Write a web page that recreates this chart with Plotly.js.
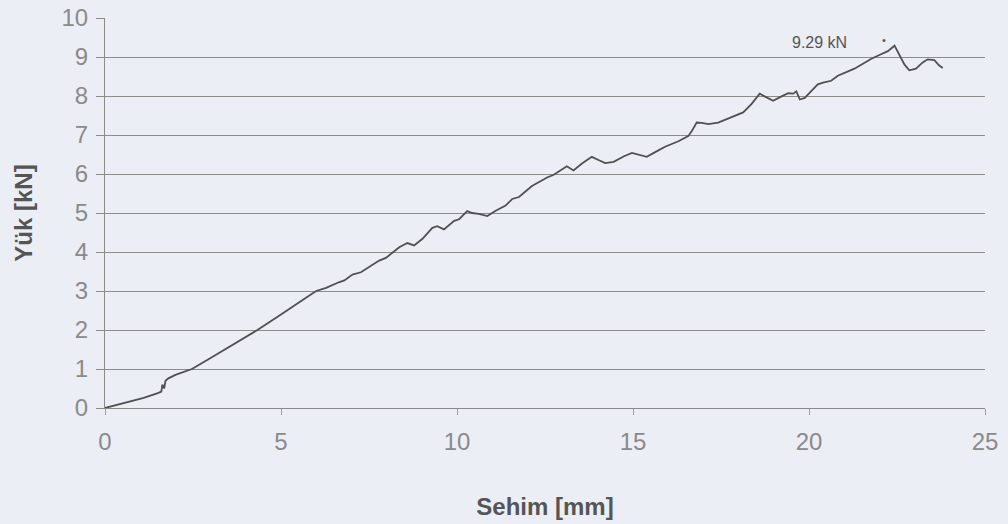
<!DOCTYPE html>
<html>
<head>
<meta charset="utf-8">
<script src="https://cdn.plot.ly/plotly-3.0.1.min.js"></script>
<style>html,body{margin:0;padding:0;background:#eceef6;}#chart{width:1008px;height:524px;}</style>
</head>
<body>
<div id="chart"></div>
<script>
// Deflection (mm)
var sehim = [0, 0.3, 0.7, 1.1, 1.5, 1.6, 1.63, 1.68, 1.72, 1.8, 2.0, 2.47, 3.0, 3.5, 4.33, 5.0, 5.52, 5.71, 6.0, 6.28, 6.66, 6.8, 7.03, 7.27, 7.79, 7.98, 8.36, 8.59, 8.78, 9.02, 9.3, 9.44, 9.63, 9.92, 10.06, 10.29, 10.43, 10.62, 10.86, 11.1, 11.38, 11.57, 11.76, 12.13, 12.56, 12.75, 13.12, 13.22, 13.31, 13.55, 13.83, 14.02, 14.21, 14.45, 14.73, 14.97, 15.16, 15.39, 15.63, 15.91, 16.29, 16.57, 16.67, 16.81, 16.95, 17.14, 17.42, 17.8, 18.13, 18.37, 18.6, 18.74, 18.98, 19.22, 19.41, 19.55, 19.64, 19.74, 19.88, 20.07, 20.25, 20.4, 20.63, 20.82, 21.06, 21.29, 21.58, 21.76, 22.0, 22.24, 22.43, 22.57, 22.71, 22.85, 23.04, 23.23, 23.37, 23.56, 23.7, 23.8];
// Load (kN)
var yuk = [0, 0.07, 0.16, 0.26, 0.38, 0.42, 0.6, 0.5, 0.7, 0.76, 0.85, 1.0, 1.28, 1.55, 2.0, 2.4, 2.70, 2.83, 3.0, 3.08, 3.23, 3.27, 3.42, 3.48, 3.78, 3.85, 4.12, 4.23, 4.17, 4.34, 4.62, 4.66, 4.58, 4.8, 4.84, 5.05, 5.0, 4.98, 4.92, 5.06, 5.19, 5.36, 5.41, 5.69, 5.91, 5.98, 6.2, 6.13, 6.09, 6.27, 6.44, 6.36, 6.28, 6.31, 6.45, 6.54, 6.5, 6.44, 6.56, 6.7, 6.84, 6.97, 7.1, 7.32, 7.31, 7.28, 7.32, 7.46, 7.58, 7.8, 8.06, 7.99, 7.88, 7.99, 8.07, 8.06, 8.12, 7.91, 7.95, 8.13, 8.3, 8.34, 8.39, 8.52, 8.61, 8.7, 8.85, 8.95, 9.05, 9.15, 9.29, 9.06, 8.81, 8.66, 8.7, 8.86, 8.94, 8.92, 8.78, 8.72];
var xTicks = [0, 5, 10, 15, 20, 25];
var yTicks = [0, 1, 2, 3, 4, 5, 6, 7, 8, 9, 10];
var peakLabel = "9.29 kN";

var trace = {
  x: sehim, y: yuk, type: 'scatter', mode: 'lines',
  line: {color: '#505050', width: 1.8},
  hoverinfo: 'skip'
};

var titleFont = {size: 24, color: '#555555', family: 'Liberation Sans, Arial, sans-serif', weight: 'bold'};

var layout = {
  width: 1008, height: 524,
  paper_bgcolor: '#eceef6', plot_bgcolor: '#eceef6',
  margin: {l: 105, r: 23, t: 18, b: 116},
  showlegend: false,
  font: {family: 'Liberation Sans, Arial, sans-serif', color: '#7a7a7a'},
  xaxis: {
    range: [0, 25], tickvals: xTicks, ticktext: xTicks.map(String),
    showgrid: false, zeroline: false,
    showline: true, linecolor: '#8a8a8a', linewidth: 1,
    ticks: 'outside', ticklen: 6, tickcolor: '#a0a0a0',
    ticklabelstandoff: 6,
    tickfont: {size: 24, color: '#8a8a8a'},
    title: {text: 'Sehim [mm]', font: titleFont, standoff: 44},
    automargin: false
  },
  yaxis: {
    range: [0, 10], tickvals: yTicks, ticktext: yTicks.map(String),
    showgrid: true, gridcolor: '#8c8c8c', gridwidth: 1,
    zeroline: false,
    showline: true, linecolor: '#8a8a8a', linewidth: 1,
    ticks: 'outside', ticklen: 8, tickcolor: '#8c8c8c',
    ticklabelstandoff: 3,
    tickfont: {size: 24, color: '#8a8a8a'},
    title: {text: 'Yük [kN]', font: titleFont, standoff: 22},
    automargin: false
  },
  annotations: [
    {x: 20.31, y: 9.36, xref: 'x', yref: 'y', text: peakLabel, showarrow: false,
     xanchor: 'center', yanchor: 'middle',
     font: {size: 16, color: '#555555', family: 'Liberation Sans, Arial, sans-serif'}},
    {x: 22.12, y: 9.44, xref: 'x', yref: 'y', text: '•', showarrow: false,
     xanchor: 'center', yanchor: 'middle',
     font: {size: 11, color: '#555555', family: 'Liberation Sans, Arial, sans-serif'}}
  ]
};

Plotly.newPlot('chart', [trace], layout, {staticPlot: true, displayModeBar: false});
</script>
</body>
</html>
